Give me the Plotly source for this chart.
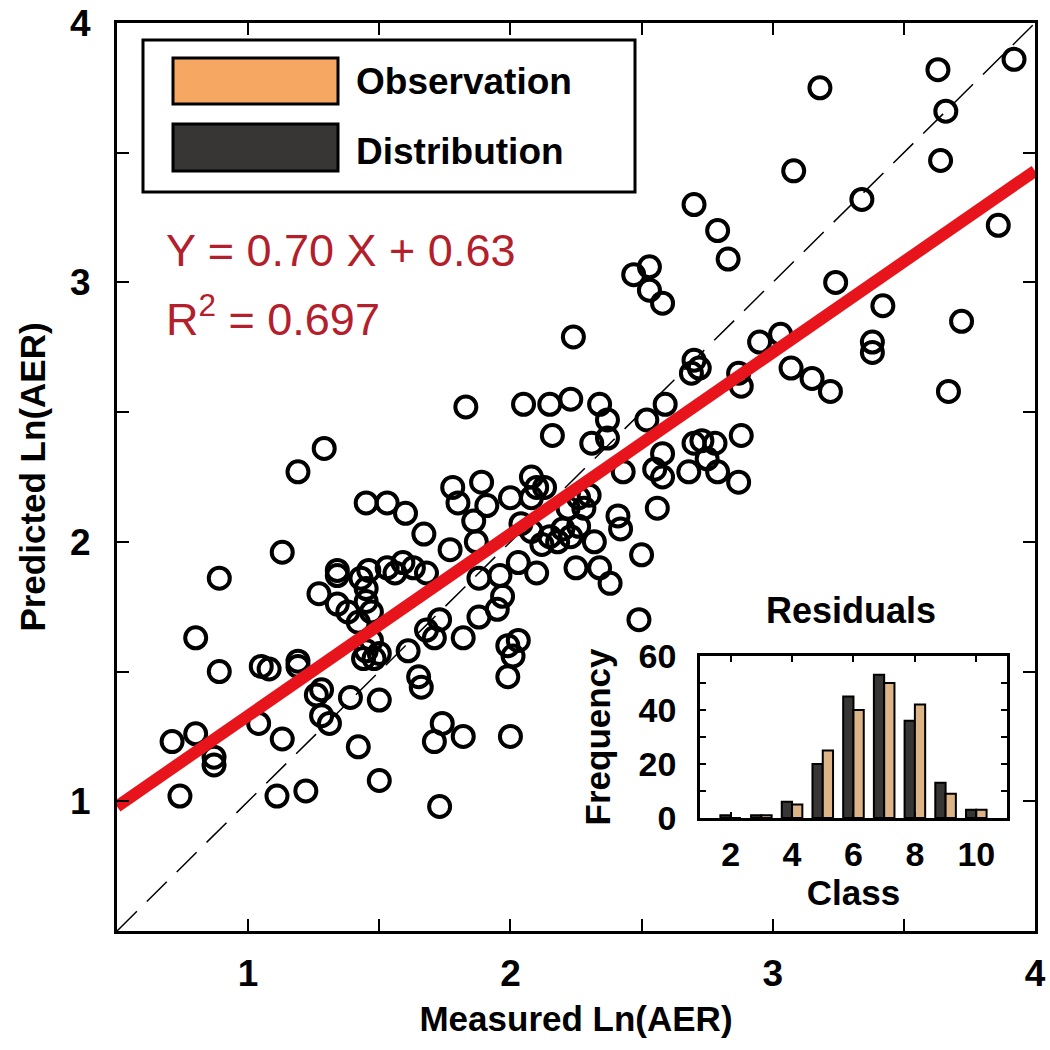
import plotly.graph_objects as go

# ---------------- data ----------------
measured = [3.92, 3.63, 3.18, 3.66, 3.64, 3.08, 3.34, 2.70, 2.79, 2.83,
            3.86, 3.24, 3.42, 3.72, 3.38, 3.38, 2.53, 2.47, 2.53, 2.58,
            2.24, 2.70, 2.72, 2.69, 2.95, 3.03, 3.07, 3.15, 3.22, 3.67,
            2.87, 2.88, 2.05, 2.15, 2.23, 2.34, 2.16, 2.37, 2.31, 2.37,
            2.52, 2.59, 2.88, 2.73, 2.70, 2.78, 2.43, 2.55, 2.58, 2.58,
            2.68, 2.79, 2.87, 2.75, 2.56, 2.41, 2.08, 2.10, 2.08, 2.26,
            2.28, 2.04, 2.08, 2.15, 2.20, 2.26, 2.32, 2.42, 2.50, 2.10,
            2.25, 2.34, 2.38, 2.49, 1.83, 1.29, 1.19, 1.45, 1.53, 1.60,
            1.67, 1.13, 1.78, 1.89, 1.80, 1.91, 2.00, 1.86, 1.77, 1.87,
            2.03, 1.34, 1.46, 1.53, 1.59, 1.63, 1.68, 1.27, 1.34, 1.45,
            1.45, 1.47, 1.42, 1.05, 1.08, 1.19, 1.45, 1.48, 1.50, 1.26,
            1.28, 1.39, 1.50, 1.28, 1.31, 1.04, 1.13, 1.42, 1.11, 1.22,
            1.50, 1.73, 1.61, 1.65, 1.66, 1.74, 1.71, 1.82, 2.00, 1.73,
            1.68, 1.71, 1.82, 1.88, 1.95, 1.97, 1.99, 2.03, 2.01, 1.99,
            1.88, 1.96, 0.89, 0.80, 0.89, 0.71, 0.80, 0.87, 0.87, 0.74,
            1.34, 2.12, 2.18, 2.23, 2.13, 2.22, 2.30, 1.47, 1.43, 1.56,
            1.38, 1.19, 1.44]
predicted = [3.86, 3.82, 3.75, 3.66, 3.47, 3.43, 3.32, 3.30, 3.20, 3.09,
             3.22, 3.00, 2.91, 2.85, 2.77, 2.73, 3.06, 3.03, 2.97, 2.92,
             2.79, 2.70, 2.67, 2.65, 2.77, 2.80, 2.67, 2.63, 2.58, 2.58,
             2.65, 2.60, 2.53, 2.53, 2.55, 2.53, 2.41, 2.47, 2.38, 2.40,
             2.47, 2.53, 2.41, 2.39, 2.38, 2.38, 2.27, 2.28, 2.25, 2.34,
             2.27, 2.27, 2.23, 2.32, 2.13, 2.10, 2.25, 2.21, 2.17, 2.17,
             2.13, 2.07, 2.04, 2.02, 2.05, 2.06, 2.00, 2.05, 1.95, 1.88,
             1.90, 1.90, 1.84, 1.70, 2.52, 2.36, 2.27, 2.15, 2.15, 2.11,
             2.03, 1.96, 2.21, 2.23, 2.15, 2.14, 2.17, 2.08, 1.97, 2.00,
             1.92, 1.89, 1.89, 1.90, 1.92, 1.90, 1.88, 1.80, 1.76, 1.82,
             1.77, 1.73, 1.69, 1.52, 1.51, 1.54, 1.58, 1.55, 1.57, 1.41,
             1.43, 1.40, 1.39, 1.33, 1.30, 1.30, 1.24, 1.21, 1.02, 1.04,
             1.08, 0.98, 1.58, 1.48, 1.44, 1.30, 1.23, 1.25, 1.25, 1.70,
             1.66, 1.63, 1.63, 1.71, 1.74, 1.79, 1.60, 1.62, 1.56, 1.48,
             1.86, 1.87, 1.86, 1.63, 1.50, 1.23, 1.26, 1.17, 1.14, 1.02,
             1.87, 1.99, 2.00, 2.02, 2.21, 2.13, 2.18, 1.62, 1.86, 1.88,
             1.73, 1.52, 1.55]

fit_slope = 0.70
fit_intercept = 0.63
r_squared = 0.697

axis_min, axis_max = 0.5, 4.0
main_tickvals = [1, 2, 3, 4]
main_minor_tickvals = [1.5, 2.5, 3.5]

res_classes = [2, 3, 4, 5, 6, 7, 8, 9, 10]
dist_freq = [1, 1, 6, 20, 45, 53, 36, 13, 3]
obs_freq = [0, 1, 5, 25, 40, 50, 42, 9, 3]

# ---------------- styling ----------------
BOLD = "Liberation Sans"
BIG = 37
OBS_COLOR = "#dcb488"
OBS_LEGEND = "#f6a862"
DIST_COLOR = "#383634"
RED_LINE = "#e8141b"
RED_TEXT = "#b3202b"

fig = go.Figure()

# 1:1 line
fig.add_trace(go.Scatter(
    x=[axis_min, axis_max], y=[axis_min, axis_max], mode="lines",
    line=dict(color="black", width=1.5, dash="28px,14px"),
    showlegend=False, hoverinfo="skip"))

# observations
fig.add_trace(go.Scatter(
    x=measured, y=predicted, mode="markers",
    marker=dict(symbol="circle-open", size=21, color="black",
                line=dict(color="black", width=4)),
    showlegend=False))

# regression line
fit_x = [axis_min, axis_max]
fit_y = [fit_slope * v + fit_intercept for v in fit_x]
fig.add_trace(go.Scatter(
    x=fit_x, y=fit_y, mode="lines",
    line=dict(color=RED_LINE, width=12),
    showlegend=False, hoverinfo="skip"))

# inset histogram
fig.add_trace(go.Bar(
    x=res_classes, y=dist_freq, name="Distribution", xaxis="x2", yaxis="y2",
    marker=dict(color=DIST_COLOR, line=dict(color="black", width=2)),
    showlegend=False))
fig.add_trace(go.Bar(
    x=res_classes, y=obs_freq, name="Observation", xaxis="x2", yaxis="y2",
    marker=dict(color=OBS_COLOR, line=dict(color="black", width=2)),
    showlegend=False))

axis_common = dict(showline=True, linecolor="black", linewidth=3,
                   mirror="ticks", ticks="inside", ticklen=12, tickwidth=2,
                   tickcolor="black", showgrid=False, zeroline=False,
                   automargin=False, ticklabeloverflow="allow")

fig.update_layout(
    width=1050, height=1050,
    margin=dict(l=117, r=15, t=23, b=119, autoexpand=False),
    paper_bgcolor="white", plot_bgcolor="white",
    barmode="group", bargap=0.33, bargroupgap=0.0,
    xaxis=dict(range=[axis_min, axis_max], tickvals=main_tickvals,
               minor=dict(tickvals=main_minor_tickvals, ticks="inside",
                          ticklen=12, tickwidth=2, tickcolor="black"),
               tickfont=dict(family=BOLD, size=BIG, color="black", weight="bold"),
               ticklabelstandoff=8,
               title=dict(text="Measured Ln(AER)", standoff=14,
                          font=dict(family=BOLD, size=35, color="black", weight="bold")),
               domain=[0, 1], **axis_common),
    yaxis=dict(range=[axis_min, axis_max], tickvals=main_tickvals,
               minor=dict(tickvals=main_minor_tickvals, ticks="inside",
                          ticklen=12, tickwidth=2, tickcolor="black"),
               tickfont=dict(family=BOLD, size=BIG, color="black", weight="bold"),
               ticklabelstandoff=16,
               title=dict(text="Predicted Ln(AER)", standoff=14,
                          font=dict(family=BOLD, size=35, color="black", weight="bold")),
               domain=[0, 1], **axis_common),
    xaxis2=dict(range=[1, 11], tickvals=[2, 4, 6, 8, 10], anchor="y2",
                domain=[0.635, 0.9695], automargin=False,
                showline=True, linecolor="black", linewidth=2.5, mirror="ticks",
                ticks="inside", ticklen=6, tickwidth=2, tickcolor="black",
                showgrid=False, zeroline=False, ticklabelstandoff=4,
                tickfont=dict(family=BOLD, size=34, color="black", weight="bold"),
                title=dict(text="Class", standoff=0,
                           font=dict(family=BOLD, size=35, color="black", weight="bold"))),
    yaxis2=dict(range=[0, 60], tickvals=[0, 20, 40, 60], anchor="x2",
                domain=[0.1245, 0.3029], automargin=False,
                minor=dict(tickvals=[10, 30, 50], ticks="inside", ticklen=6,
                           tickwidth=2, tickcolor="black"),
                showline=True, linecolor="black", linewidth=2.5, mirror="ticks",
                ticks="inside", ticklen=6, tickwidth=2, tickcolor="black",
                showgrid=False, zeroline=False, ticklabelstandoff=14,
                tickfont=dict(family=BOLD, size=34, color="black", weight="bold"),
                title=dict(text="Frequency", standoff=18,
                           font=dict(family=BOLD, size=35, color="black", weight="bold"))),
)

# ---- legend (drawn box); page-pixel to paper conversion ----
def px_x(p):
    return (p - 117) / 918.0

def px_y(p):
    return (931 - p) / 908.0

shapes = [
    dict(type="rect", xref="paper", yref="paper", x0=px_x(143), x1=px_x(635),
         y0=px_y(192), y1=px_y(40), line=dict(color="black", width=3),
         fillcolor="white", layer="above"),
    dict(type="rect", xref="paper", yref="paper", x0=px_x(173), x1=px_x(338),
         y0=px_y(104), y1=px_y(58), line=dict(color="black", width=3),
         fillcolor=OBS_LEGEND, layer="above"),
    dict(type="rect", xref="paper", yref="paper", x0=px_x(173), x1=px_x(338),
         y0=px_y(171), y1=px_y(124), line=dict(color="black", width=3),
         fillcolor=DIST_COLOR, layer="above"),
]
fig.update_layout(shapes=shapes)

annotations = [
    dict(text="Observation", xref="paper", yref="paper", x=px_x(354), y=px_y(81),
         xanchor="left", yanchor="middle", showarrow=False,
         font=dict(family=BOLD, size=BIG, color="black", weight="bold")),
    dict(text="Distribution", xref="paper", yref="paper", x=px_x(354), y=px_y(151),
         xanchor="left", yanchor="middle", showarrow=False,
         font=dict(family=BOLD, size=BIG, color="black", weight="bold")),
    dict(text=f"Y = {fit_slope:.2f} X + {fit_intercept:.2f}", xref="paper", yref="paper",
         x=px_x(164), y=px_y(251), xanchor="left", yanchor="middle", showarrow=False,
         font=dict(family="Liberation Sans", size=45, color=RED_TEXT)),
    dict(text=f"R<sup>2</sup> = {r_squared:.3f}", xref="paper", yref="paper",
         x=px_x(164), y=px_y(316), xanchor="left", yanchor="middle", showarrow=False,
         font=dict(family="Liberation Sans", size=45, color=RED_TEXT)),
    dict(text="Residuals", xref="paper", yref="paper", x=px_x(851), y=px_y(610),
         xanchor="center", yanchor="middle", showarrow=False,
         font=dict(family=BOLD, size=36, color="black", weight="bold")),
]
fig.update_layout(annotations=annotations)

# remove the browser's default 8px body margin so the figure fills the window
fig.write_html("out.html",
               config={"displayModeBar": False},
               post_script="document.body.style.margin='0';document.body.style.overflow='hidden';")
